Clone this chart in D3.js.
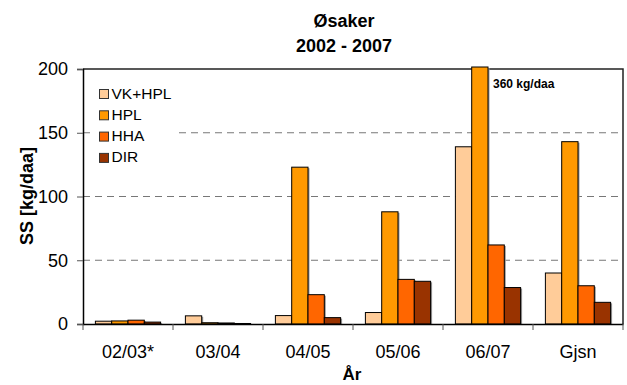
<!DOCTYPE html>
<html>
<head>
<meta charset="utf-8">
<script src="https://cdn.jsdelivr.net/npm/d3@7"></script>
<style>
  body { margin: 0; background: #fff; }
  text { font-family: "Liberation Sans", Arial, sans-serif; }
</style>
</head>
<body>
<svg id="chart"></svg>
<script>
var width = 627;
var height = 385;

var years = ["02/03*", "03/04", "04/05", "05/06", "06/07", "Gjsn"];
var seriesNames = ["VK+HPL", "HPL", "HHA", "DIR"];
var vkhpl = [2.2, 6.4, 6.6, 9, 139, 40];
var hpl = [2.4, 1, 123, 88, 360, 143];
var hha = [3, 0.8, 23, 35, 62, 30];
var dir = [1.5, 0.4, 5, 33.5, 28.6, 17];
var yTicks = [0, 50, 100, 150, 200];
var colors = ["#FFCC99", "#FF9900", "#FF6600", "#993300"];

var series = [vkhpl, hpl, hha, dir];

var margin = { left: 83, right: 4, top: 69, bottom: 61 };

var svg = d3.select("#chart")
  .attr("width", width)
  .attr("height", height);

var x0 = d3.scaleBand()
  .domain(years)
  .range([margin.left, width - margin.right]);

var x1 = d3.scaleBand()
  .domain(seriesNames)
  .range([0, x0.bandwidth()])
  .paddingOuter(0.76);

var y = d3.scaleLinear()
  .domain([0, 200])
  .range([height - margin.bottom, margin.top])
  .clamp(true);

// dashed grid lines
svg.append("g")
  .selectAll("line")
  .data(yTicks.filter(function(d) { return d > 0 && d < 200; }))
  .enter().append("line")
  .attr("x1", margin.left)
  .attr("x2", width - margin.right)
  .attr("y1", function(d) { return y(d); })
  .attr("y2", function(d) { return y(d); })
  .attr("stroke", "#777")
  .attr("stroke-width", 1)
  .attr("stroke-dasharray", "7,5");

// plot frame (top + right)
svg.append("path")
  .attr("d", "M" + margin.left + "," + y(200) + "H" + (width - margin.right) + "V" + y(0))
  .attr("fill", "none")
  .attr("stroke", "#222")
  .attr("stroke-width", 1.5);

// bars
function rowsFor(d, i) {
  return series.map(function(s, j) { return { name: seriesNames[j], value: s[i], color: colors[j] }; });
}
function over(d) { return d.value > 200 ? 2 : 0; }  // bar cut at the top of the plot

var groups = svg.append("g")
  .selectAll("g")
  .data(years)
  .enter().append("g")
  .attr("transform", function(d) { return "translate(" + x0(d) + ",0)"; });

groups.selectAll("rect.shadow")
  .data(rowsFor)
  .enter().append("rect")
  .attr("class", "shadow")
  .attr("x", function(d) { return x1(d.name) + 1.5; })
  .attr("y", function(d) { return y(d.value) - over(d) + 1; })
  .attr("width", x1.bandwidth())
  .attr("height", function(d) { return Math.max(0, y(0) - y(d.value) + over(d) - 1); })
  .attr("fill", "#999");

groups.selectAll("rect.bar")
  .data(rowsFor)
  .enter().append("rect")
  .attr("class", "bar")
  .attr("x", function(d) { return x1(d.name); })
  .attr("y", function(d) { return y(d.value) - over(d); })
  .attr("width", x1.bandwidth())
  .attr("height", function(d) { return y(0) - y(d.value) + over(d); })
  .attr("fill", function(d) { return d.color; })
  .attr("stroke", "#000")
  .attr("stroke-width", 1);

// y axis
var yAxis = svg.append("g")
  .attr("transform", "translate(" + margin.left + ",0)")
  .call(d3.axisLeft(y).tickValues(yTicks).tickSize(6).tickPadding(9));
yAxis.select(".domain").attr("stroke", "#000").attr("stroke-width", 1.5);
yAxis.selectAll(".tick line").attr("stroke", "#555");
yAxis.selectAll("text").attr("font-size", 18).attr("fill", "#000")
  .style("font-family", "'Liberation Sans', Arial, sans-serif");

// x axis
var xAxis = svg.append("g")
  .attr("transform", "translate(0," + y(0) + ")")
  .call(d3.axisBottom(x0).tickSize(0).tickPadding(21.5));
xAxis.select(".domain").attr("stroke", "#000").attr("stroke-width", 1.5);
xAxis.selectAll("text").attr("font-size", 18).attr("fill", "#000")
  .style("font-family", "'Liberation Sans', Arial, sans-serif");

// x boundary ticks between groups
svg.append("g")
  .selectAll("line")
  .data(years.concat(["end"]))
  .enter().append("line")
  .attr("x1", function(d) { return d === "end" ? x0.range()[1] : x0(d); })
  .attr("x2", function(d) { return d === "end" ? x0.range()[1] : x0(d); })
  .attr("y1", y(0))
  .attr("y2", y(0) + 6)
  .attr("stroke", "#555");

// titles
svg.append("text")
  .attr("x", 344).attr("y", 27)
  .attr("text-anchor", "middle")
  .attr("font-size", 18).attr("font-weight", "bold")
  .text("Øsaker");
svg.append("text")
  .attr("x", 344).attr("y", 52)
  .attr("text-anchor", "middle")
  .attr("font-size", 18).attr("font-weight", "bold")
  .text("2002 - 2007");

svg.append("text")
  .attr("transform", "translate(33,196) rotate(-90)")
  .attr("text-anchor", "middle")
  .attr("font-size", 18).attr("font-weight", "bold")
  .text("SS [kg/daa]");

svg.append("text")
  .attr("x", 352).attr("y", 380)
  .attr("text-anchor", "middle")
  .attr("font-size", 17).attr("font-weight", "bold")
  .text("År");

svg.append("text")
  .attr("x", 493).attr("y", 88)
  .attr("font-size", 12).attr("font-weight", "bold")
  .text("360 kg/daa");

// legend
var legend = svg.append("g").attr("transform", "translate(90,78)");
legend.append("rect")
  .attr("width", 88).attr("height", 92)
  .attr("fill", "#fff");
var items = legend.selectAll("g.item")
  .data(seriesNames)
  .enter().append("g")
  .attr("class", "item")
  .attr("transform", function(d, i) { return "translate(0," + (i * 21.3) + ")"; });
items.append("rect")
  .attr("x", 9.5).attr("y", 11.5)
  .attr("width", 9).attr("height", 9)
  .attr("fill", function(d, i) { return colors[i]; })
  .attr("stroke", "#333").attr("stroke-width", 1);
items.append("text")
  .attr("x", 21.5).attr("y", 20.5)
  .attr("font-size", 15.5)
  .text(function(d) { return d; });
</script>
</body>
</html>
